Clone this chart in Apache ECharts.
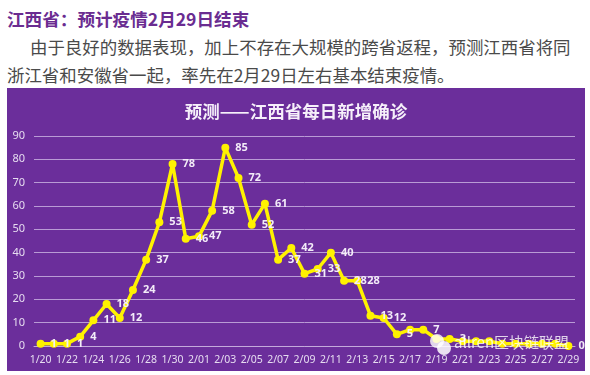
<!DOCTYPE html>
<html>
<head>
<meta charset="utf-8">
<script src="https://cdn.jsdelivr.net/npm/echarts@6/dist/echarts.min.js"></script>
<style>
  html, body { margin: 0; padding: 0; background: #fff; width: 590px; height: 375px; overflow: hidden; }
  body { position: relative; font-family: "Noto Sans CJK SC", sans-serif; }
  .head { position: absolute; left: 7px; top: 8px; font-size: 17.6px; line-height: 22px; font-weight: 700; color: #6a2c91; white-space: nowrap; }
  .para { position: absolute; white-space: nowrap; font-size: 17.45px; line-height: 22px; color: #4a4a4a; }
  #main { position: absolute; left: 7px; top: 88px; width: 578px; height: 283px; }
</style>
</head>
<body>
<div class="head">江西省&#xFF1A;预计疫情2月29日结束</div>
<div class="para" style="left:30px;top:36px">由于良好的数据表现&#xFF0C;加上不存在大规模的跨省返程&#xFF0C;预测江西省将同</div>
<div class="para" style="left:7px;top:64px">浙江省和安徽省一起&#xFF0C;率先在2月29日左右基本结束疫情。</div>
<div id="main"></div>
<script>
const days = ['1/20', '1/21', '1/22', '1/23', '1/24', '1/25', '1/26', '1/27', '1/28', '1/29', '1/30', '1/31',
  '2/01', '2/02', '2/03', '2/04', '2/05', '2/06', '2/07', '2/08', '2/09', '2/10', '2/11', '2/12', '2/13', '2/14',
  '2/15', '2/16', '2/17', '2/18', '2/19', '2/20', '2/21', '2/22', '2/23', '2/24', '2/25', '2/26', '2/27', '2/28', '2/29']
const newCases = [1, 1, 1, 4, 11, 18, 12, 24, 37, 53, 78, 46,
  47, 58, 85, 72, 52, 61, 37, 42, 31, 33, 40, 28, 28, 13,
  12, 5, 7, 7, 3, 3, 2, 2, 2, 1, 1, 1, 1, 1, 0]
// 这些天的数字在原图里被水印和折线盖住了
const noLabelDays = ['2/17', '2/19', '2/21', '2/22', '2/23', '2/24', '2/25', '2/26', '2/27', '2/28']

const seriesData = newCases.map((value, i) => (
  noLabelDays.includes(days[i]) ? { value, label: { show: false } } : value
))

const chart = echarts.init(document.getElementById('main'))
chart.setOption({
  animation: false,
  backgroundColor: '#6b2e9b',
  textStyle: { fontFamily: 'Noto Sans' },
  title: {
    text: '预测——江西省每日新增确诊',
    left: 'center',
    top: 10,
    textStyle: { color: '#f6f0fa', fontSize: 17.5, fontWeight: 'bold', fontFamily: 'Noto Sans CJK SC' },
  },
  grid: { left: 27, right: 10, top: 48, bottom: 25 },
  xAxis: {
    type: 'category',
    data: days,
    axisLine: { lineStyle: { color: '#c4aadb' } },
    axisTick: { interval: 1, length: 3, lineStyle: { color: '#c4aadb' } },
    axisLabel: { interval: 1, color: '#e6dcf0', fontSize: 10.5, margin: 9 },
  },
  yAxis: {
    type: 'value',
    min: 0,
    max: 90,
    interval: 10,
    axisLine: { show: false },
    axisTick: { show: false },
    axisLabel: { color: '#e6dcf0', fontSize: 11, margin: 9 },
    splitLine: { lineStyle: { color: '#b99bd5', width: 1 } },
  },
  series: [
    {
      type: 'line',
      data: seriesData,
      symbol: 'circle',
      symbolSize: 8,
      lineStyle: { color: '#fff200', width: 3.5 },
      itemStyle: { color: '#fff200' },
      label: { show: true, position: 'right', distance: 6, color: '#f3ecf8', fontSize: 11, fontWeight: 'bold' },
    },
  ],
  // 水印
  graphic: [
    { type: 'circle', left: 423, top: 246, z: 50, shape: { r: 7 }, style: { fill: 'rgba(255,255,255,0.8)' } },
    { type: 'circle', left: 430, top: 253, z: 50, shape: { r: 7 }, style: { fill: 'rgba(255,255,255,0.85)' } },
    { type: 'text', left: 447, top: 247, z: 50, style: { text: 'allren区块链联盟', fill: 'rgba(255,255,255,0.8)', fontSize: 15, fontFamily: 'Noto Sans CJK SC' } },
  ],
})
</script>
</body>
</html>
